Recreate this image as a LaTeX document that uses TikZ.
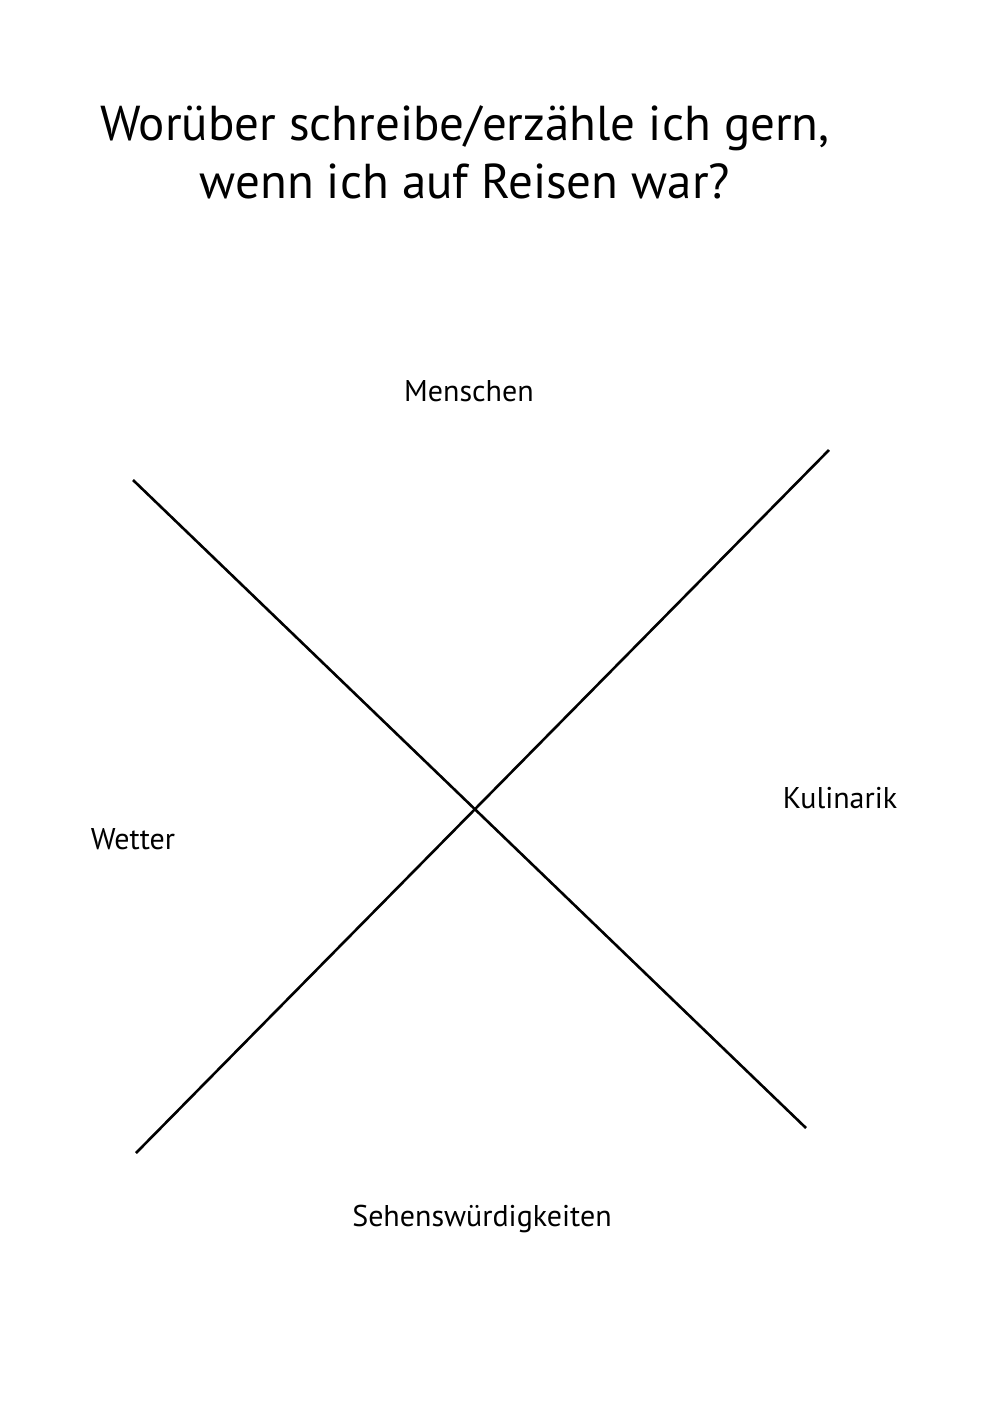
\documentclass[tikz,border=0pt]{standalone}
\usepackage{fontspec}
\setmainfont{PT Sans}
\begin{document}
\begin{tikzpicture}[x=1pt,y=-1pt,
  lbl/.style={inner sep=0pt,font=\fontsize{30}{36}\selectfont},
  ttl/.style={inner sep=0pt,align=center,font=\fontsize{49}{58}\selectfont},
  axis/.style={line width=2.6pt,black}]
\useasboundingbox[fill=white] (0,0) rectangle (1000,1414);
\node[ttl] (title) at (465,152) {Worüber schreibe/erzähle ich gern,\\wenn ich auf Reisen war?};
\node[lbl] (m) at (469,391) {Menschen};
\node[lbl] (k) at (840,798) {Kulinarik};
\node[lbl] (w) at (133,839) {Wetter};
\node[lbl] (s) at (482,1219) {Sehenswürdigkeiten};
\coordinate (a1) at (133,480);
\coordinate (a2) at (806,1128);
\coordinate (b1) at (136,1153);
\coordinate (b2) at (829,450);
\draw[axis] (a1) -- (a2);
\draw[axis] (b1) -- (b2);
\end{tikzpicture}
\end{document}
